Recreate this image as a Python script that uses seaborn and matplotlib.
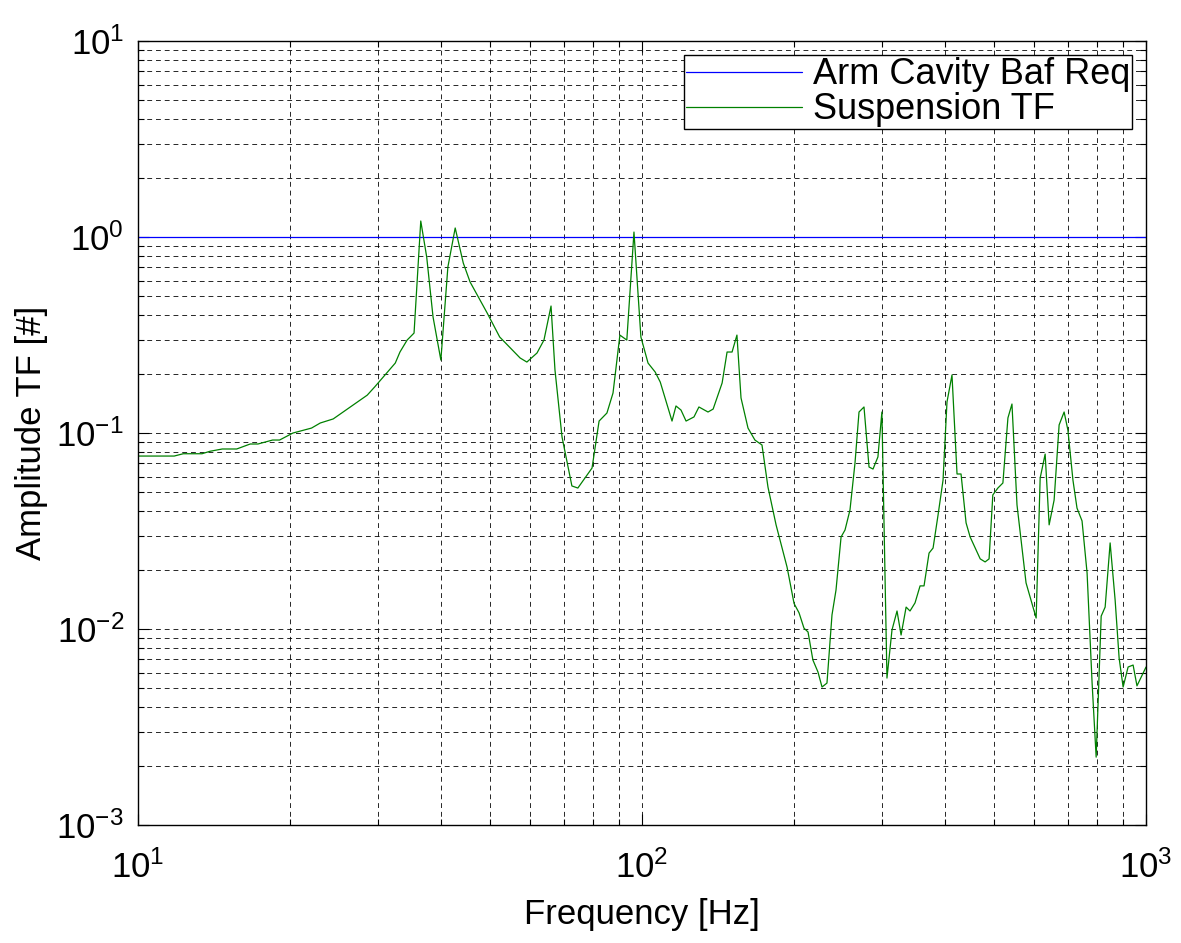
import numpy as np
import pandas as pd
import matplotlib
matplotlib.use("Agg")
import matplotlib.pyplot as plt
import seaborn as sns
from matplotlib.ticker import LogLocator, NullFormatter

# ---- data ----
freq_hz = [10.0, 11.8, 12.3, 13.4, 13.9, 14.7, 15.7, 16.7, 17.3, 18.5, 19.1, 20.3,
           22.1, 23.0, 24.4, 28.5, 29.5, 32.4, 33.1, 34.2, 35.3, 36.4, 37.4, 38.5,
           39.9, 41.2, 42.6, 44.2, 45.6, 49.3, 52.2, 57.3, 59.1, 61.9, 63.9, 66.0,
           67.2, 69.4, 72.6, 74.6, 79.6, 82.2, 85.2, 87.6, 90.4, 93.3, 96.4, 99.5,
           102.8, 106.2, 108.7, 114.7, 116.8, 119.5, 122.3, 126.8, 129.7, 135.2,
           138.4, 144.2, 147.5, 150.9, 154.3, 157.2, 162.3, 167.5, 173.0, 177.8,
           184.5, 194.0, 200.3, 204.9, 209.6, 213.5, 218.3, 223.4, 227.6, 232.8,
           238.2, 242.6, 248.3, 252.8, 258.6, 264.6, 269.5, 275.7, 282.1, 287.3,
           293.8, 299.2, 306.2, 313.3, 320.6, 326.6, 334.2, 340.2, 348.1, 356.2,
           362.7, 371.1, 378.0, 386.7, 395.6, 402.8, 412.1, 421.7, 429.5, 439.5,
           447.7, 468.8, 479.4, 488.2, 496.6, 508.2, 520.0, 532.1, 542.0, 554.6,
           578.0, 605.3, 616.5, 630.7, 642.3, 657.1, 672.3, 687.8, 699.8, 716.1,
           729.5, 746.5, 763.9, 781.6, 796.2, 814.7, 829.6, 848.7, 868.3, 884.3,
           900.6, 921.3, 942.6, 959.4, 1000.0]
suspension_tf = [0.0763, 0.0763, 0.0784, 0.0784, 0.0807, 0.0829, 0.0829, 0.0879, 0.0879,
                 0.0921, 0.0921, 0.100, 0.106, 0.1125, 0.118, 0.156, 0.172, 0.2275, 0.259,
                 0.298, 0.3236, 1.207, 0.791, 0.391, 0.2357, 0.703, 1.112, 0.737, 0.5895,
                 0.4095, 0.309, 0.2415, 0.2302, 0.256, 0.298, 0.4446, 0.2096, 0.0954,
                 0.0537, 0.0524, 0.0663, 0.1151, 0.1265, 0.16, 0.316, 0.298, 1.06, 0.309,
                 0.2275, 0.2048, 0.182, 0.1151, 0.1374, 0.131, 0.1151, 0.1208, 0.1358,
                 0.128, 0.1325, 0.18, 0.259, 0.259, 0.316, 0.151, 0.106, 0.0921, 0.0869,
                 0.053, 0.034, 0.0207, 0.0135, 0.0121, 0.0101, 0.00966, 0.00695, 0.00604,
                 0.00506, 0.0053, 0.0118, 0.0158, 0.0295, 0.032, 0.0405, 0.0703, 0.128,
                 0.1358, 0.0671, 0.0655, 0.0755, 0.128, 0.00562, 0.00988, 0.01236,
                 0.00932, 0.01294, 0.01236, 0.0136, 0.0166, 0.0166, 0.0244, 0.0259,
                 0.0382, 0.0575, 0.144, 0.1977, 0.0618, 0.0618, 0.0348, 0.0295, 0.0228,
                 0.022, 0.0228, 0.0483, 0.0524, 0.0556, 0.1194, 0.1406, 0.043, 0.0172,
                 0.01138, 0.0589, 0.0781, 0.034, 0.0455, 0.11, 0.128, 0.1035, 0.0575,
                 0.0414, 0.0356, 0.0193, 0.0053, 0.00222, 0.01164, 0.01294, 0.0275,
                 0.01406, 0.00711, 0.00506, 0.0064, 0.00655, 0.00513, 0.0064]
req_freq = [10.0, 1000.0]
req_level = [1.0, 1.0]
series_names = ["Arm Cavity Baf Req", "Suspension TF"]
series_colors = ["#0000ff", "#008000"]

df = pd.concat([
    pd.DataFrame({"f": req_freq, "a": req_level, "s": series_names[0]}),
    pd.DataFrame({"f": freq_hz, "a": suspension_tf, "s": series_names[1]}),
], ignore_index=True)

sns.set_style("ticks")
plt.rcParams["font.family"] = ["Liberation Sans", "DejaVu Sans"]
plt.rcParams["mathtext.fontset"] = "custom"
plt.rcParams["mathtext.rm"] = "Liberation Sans"
plt.rcParams["mathtext.default"] = "regular"
for k in ["text.color", "axes.labelcolor", "xtick.color", "ytick.color", "axes.edgecolor"]:
    plt.rcParams[k] = "black"

fig = plt.figure(figsize=(11.81, 9.43), dpi=100)
ax = fig.add_axes([0.1168, 0.1251, 0.8536, 0.8314])

sns.lineplot(data=df, x="f", y="a", hue="s", palette=dict(zip(series_names, series_colors)),
             linewidth=0.9, ax=ax, sort=False, estimator=None)

ax.set_xscale("log")
ax.set_yscale("log")
ax.set_xlim(10, 1000)
ax.set_ylim(1e-3, 10)

ax.xaxis.set_major_locator(LogLocator(base=10, numticks=10))
ax.yaxis.set_major_locator(LogLocator(base=10, numticks=10))
ax.xaxis.set_minor_locator(LogLocator(base=10, subs=np.arange(2, 10), numticks=20))
ax.yaxis.set_minor_locator(LogLocator(base=10, subs=np.arange(2, 10), numticks=20))
ax.xaxis.set_minor_formatter(NullFormatter())
ax.yaxis.set_minor_formatter(NullFormatter())

ax.grid(True, which="both", color="black", linestyle=(0, (5, 4)), linewidth=0.7, alpha=0.85)
ax.tick_params(which="both", direction="in", top=True, right=True, labelsize=25, width=0.8,
               colors="black")
ax.tick_params(axis="x", which="major", length=8, pad=18)
ax.tick_params(axis="y", which="major", length=8, pad=10)
ax.tick_params(which="minor", length=4)
for sp in ax.spines.values():
    sp.set_linewidth(1.0)
    sp.set_color("black")

ax.set_xlabel("Frequency [Hz]", fontsize=25, labelpad=10)
ax.set_ylabel("Amplitude TF [#]", fontsize=25, labelpad=6)

leg = ax.legend(loc="upper right", fontsize=26, frameon=True, fancybox=False,
                edgecolor="black", framealpha=1, handlelength=3.2, borderaxespad=0.4,
                labelspacing=0.0, handletextpad=0.3, borderpad=0.05)
leg.get_frame().set_linewidth(1.0)
for line in leg.get_lines():
    line.set_linewidth(0.9)

fig.savefig("out.png", dpi=100)
